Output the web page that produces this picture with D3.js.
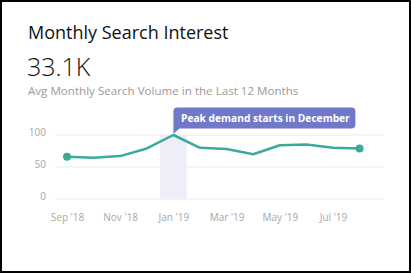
<!DOCTYPE html>
<html>
<head>
<meta charset="utf-8">
<script src="https://cdn.jsdelivr.net/npm/d3@7"></script>
<style>
  body { margin: 0; background: #fff; }
  svg { display: block; font-family: "Open Sans", sans-serif; }
</style>
</head>
<body>
<script>
// data
var months = ["Sep '18", "Oct '18", "Nov '18", "Dec '18", "Jan '19", "Feb '19",
              "Mar '19", "Apr '19", "May '19", "Jun '19", "Jul '19", "Aug '19"];
var interest = [66, 64.5, 67, 79, 100, 80, 78, 70, 84, 85, 80, 79];
var yTicks = [0, 50, 100];
var peakMonth = "Jan '19";
var noteText = "Peak demand starts in December";

var W = 411, H = 273;

var svg = d3.select("body").append("svg")
    .attr("width", W)
    .attr("height", H);

// card frame
svg.append("rect")
    .attr("x", 1).attr("y", 1)
    .attr("width", W - 2).attr("height", H - 2)
    .attr("fill", "#fff")
    .attr("stroke", "#000")
    .attr("stroke-width", 2);

// header texts
svg.append("text").attr("x", 28).attr("y", 39)
    .attr("font-size", 18).attr("fill", "#111")
    .text("Monthly Search Interest");
svg.append("text").attr("x", 27).attr("y", 76)
    .attr("font-size", 25).attr("font-weight", 300).attr("fill", "#111")
    .text("33.1K");
svg.append("text").attr("x", 28).attr("y", 95)
    .attr("font-size", 11.6).attr("fill", "#9a9a9a")
    .text("Avg Monthly Search Volume in the Last 12 Months");

// scales
var x = d3.scalePoint()
    .domain(months)
    .range([67, 359.6]);
var step = x.step();

var y = d3.scaleLinear()
    .domain([0, 100])
    .range([199, 135]);

// gridlines
svg.append("g").selectAll("line")
    .data(yTicks)
    .enter().append("line")
    .attr("x1", 55).attr("x2", 383)
    .attr("y1", function(d) { return y(d); })
    .attr("y2", function(d) { return y(d); })
    .attr("stroke", "#f1f1f3")
    .attr("stroke-width", 1.5);

// highlighted month band
svg.append("rect")
    .attr("x", x(peakMonth) - step / 2)
    .attr("y", y(100))
    .attr("width", step)
    .attr("height", y(0) - y(100))
    .attr("fill", "#eeeef8");

// y axis labels, sitting on their gridline
var yAxis = d3.axisLeft(y).tickValues(yTicks).tickSize(0).tickPadding(0);
var yg = svg.append("g").attr("transform", "translate(46,0)").call(yAxis);
yg.select(".domain").remove();
yg.selectAll("text")
    .attr("dy", "0")
    .attr("font-family", "Open Sans, sans-serif")
    .attr("font-size", 10)
    .attr("fill", "#a8a8a8");

// x axis labels, every other month
var xAxis = d3.axisBottom(x)
    .tickValues(months.filter(function(d, i) { return i % 2 === 0; }))
    .tickSize(0).tickPadding(0);
var xg = svg.append("g").attr("transform", "translate(0,214)").call(xAxis);
xg.select(".domain").remove();
xg.selectAll("text")
    .attr("font-family", "Open Sans, sans-serif")
    .attr("font-size", 10)
    .attr("fill", "#a8a8a8");

// line
var line = d3.line()
    .x(function(d, i) { return x(months[i]); })
    .y(function(d) { return y(d); });

svg.append("path")
    .datum(interest)
    .attr("d", line)
    .attr("fill", "none")
    .attr("stroke", "#3aab98")
    .attr("stroke-width", 2.5)
    .attr("stroke-linejoin", "round");

// end points
var ends = [0, interest.length - 1];
svg.append("g").selectAll("circle")
    .data(ends)
    .enter().append("circle")
    .attr("cx", function(i) { return x(months[i]); })
    .attr("cy", function(i) { return y(interest[i]); })
    .attr("r", 4)
    .attr("fill", "#3aab98");

// annotation callout
var px = x(peakMonth), py = y(100);
var bx = px, by = 107.5, bw = 182, bh = 21, r = 4;
var note = d3.path();
note.moveTo(bx, by + r);
note.arcTo(bx, by, bx + r, by, r);
note.lineTo(bx + bw - r, by);
note.arcTo(bx + bw, by, bx + bw, by + r, r);
note.lineTo(bx + bw, by + bh - r);
note.arcTo(bx + bw, by + bh, bx + bw - r, by + bh, r);
note.lineTo(bx + 6, by + bh);
note.lineTo(bx, py - 1);
note.closePath();
svg.append("path")
    .attr("d", note.toString())
    .attr("fill", "#7079c9");
svg.append("text")
    .attr("x", bx + bw / 2 + 1)
    .attr("y", by + 14.5)
    .attr("text-anchor", "middle")
    .attr("font-size", 10.2)
    .attr("font-weight", "bold")
    .attr("fill", "#fff")
    .text(noteText);
</script>
</body>
</html>
